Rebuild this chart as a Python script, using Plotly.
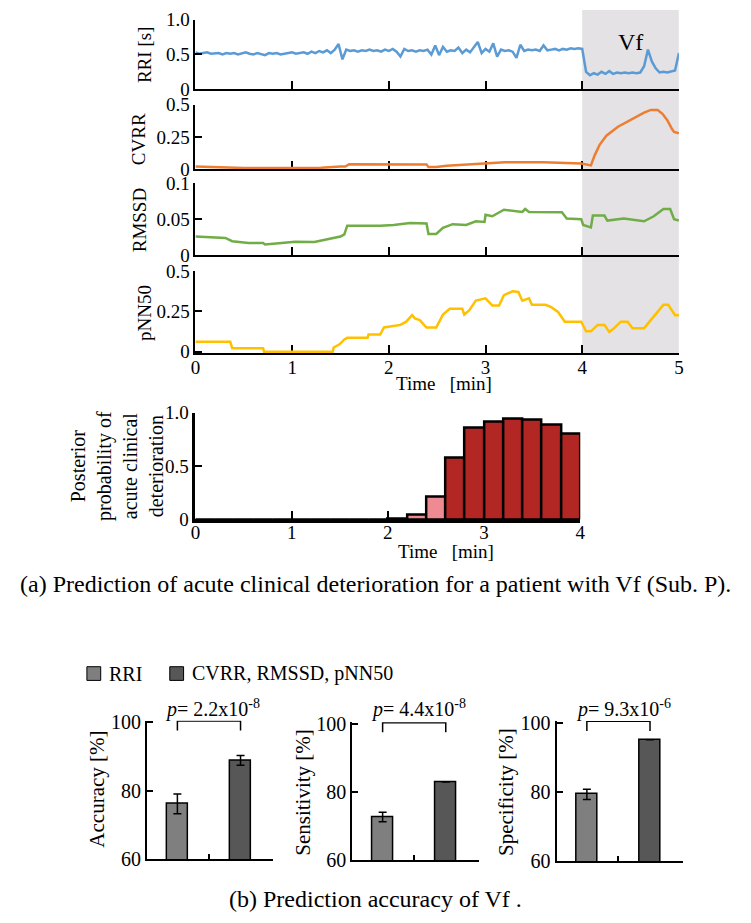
import plotly.graph_objects as go

# ---------------- data ----------------
rri_v = [0.53, 0.51, 0.52, 0.53, 0.51, 0.52, 0.52, 0.50, 0.52, 0.51,
         0.52, 0.50, 0.51, 0.53, 0.51, 0.50, 0.52, 0.51, 0.49, 0.52,
         0.51, 0.52, 0.50, 0.51, 0.52, 0.53, 0.51, 0.52, 0.53, 0.51,
         0.54, 0.52, 0.55, 0.53, 0.56, 0.52, 0.57,
         0.65, 0.43, 0.57,
         0.55, 0.56, 0.54, 0.56, 0.55, 0.57, 0.55, 0.56, 0.54, 0.57,
         0.55, 0.58, 0.54, 0.47, 0.58, 0.55, 0.56, 0.54, 0.56, 0.55,
         0.57, 0.50, 0.63, 0.49, 0.61, 0.54, 0.56, 0.55, 0.60, 0.52,
         0.57, 0.53, 0.60, 0.68, 0.52, 0.58, 0.54, 0.66, 0.47, 0.57,
         0.55, 0.56, 0.54, 0.45, 0.64, 0.55, 0.57, 0.56, 0.57, 0.55,
         0.63, 0.56, 0.57, 0.58, 0.56, 0.58, 0.57, 0.59, 0.58, 0.59,
         0.58, 0.25, 0.20, 0.23, 0.21, 0.25, 0.22, 0.26, 0.22, 0.24,
         0.23, 0.24, 0.23, 0.24, 0.23, 0.24, 0.33, 0.57, 0.40, 0.30,
         0.24, 0.25, 0.24, 0.25, 0.27, 0.52]
rri_step = 0.04  # sampling interval [min]
rri_t = [round(i * rri_step, 2) for i in range(len(rri_v))]

cvrr_t = [0, 0.5, 1.0, 1.3, 1.5, 1.55, 1.59, 2.0, 2.39, 2.41, 2.49, 2.6, 3.0, 3.2,
          3.6, 3.99, 4.09, 4.13, 4.18, 4.25, 4.37, 4.5, 4.64, 4.71, 4.78, 4.83,
          4.88, 4.93, 4.95, 5.0]
cvrr_v = [0.021, 0.010, 0.010, 0.012, 0.021, 0.022, 0.040, 0.038, 0.038, 0.017,
          0.017, 0.028, 0.045, 0.054, 0.054, 0.045, 0.030, 0.110, 0.190, 0.260,
          0.330, 0.380, 0.440, 0.460, 0.460, 0.430, 0.380, 0.310, 0.290, 0.280]

rmssd_t = [0, 0.31, 0.38, 0.55, 0.70, 0.72, 0.89, 1.03, 1.23, 1.37, 1.50, 1.54,
           1.57, 1.91, 2.05, 2.22, 2.39, 2.41, 2.49, 2.56, 2.66, 2.80, 2.90, 2.99,
           3.00, 3.07, 3.19, 3.38, 3.41, 3.45, 3.79, 3.84, 3.99, 4.01, 4.09, 4.11,
           4.23, 4.26, 4.43, 4.64, 4.74, 4.84, 4.91, 4.95, 5.0]
rmssd_v = [0.026, 0.024, 0.0195, 0.017, 0.017, 0.015, 0.017, 0.0186, 0.0185, 0.022,
           0.026, 0.029, 0.041, 0.041, 0.042, 0.0445, 0.044, 0.0295, 0.0295, 0.038,
           0.043, 0.042, 0.047, 0.046, 0.056, 0.054, 0.063, 0.060, 0.064, 0.060,
           0.0595, 0.051, 0.050, 0.042, 0.0386, 0.055, 0.055, 0.048, 0.051, 0.047,
           0.054, 0.064, 0.064, 0.050, 0.048]

pnn_t = [0, 0.36, 0.38, 0.70, 0.71, 1.42, 1.43, 1.49, 1.54, 1.57, 1.78, 1.79, 1.91,
         1.95, 2.12, 2.18, 2.24, 2.27, 2.32, 2.39, 2.49, 2.56, 2.63, 2.76, 2.78, 2.83,
         2.90, 3.00, 3.07, 3.14, 3.19, 3.28, 3.34, 3.38, 3.45, 3.48, 3.62, 3.68, 3.75,
         3.82, 3.99, 4.04, 4.09, 4.16, 4.23, 4.28, 4.33, 4.40, 4.47, 4.52, 4.64, 4.78,
         4.84, 4.89, 4.96, 5.0]
pnn_v = [0.062, 0.062, 0.022, 0.022, 0.0, 0.0, 0.026, 0.046, 0.076, 0.086, 0.086,
         0.106, 0.106, 0.150, 0.166, 0.186, 0.226, 0.206, 0.196, 0.150, 0.150, 0.230,
         0.266, 0.266, 0.230, 0.256, 0.316, 0.330, 0.286, 0.286, 0.350, 0.374, 0.370,
         0.316, 0.330, 0.290, 0.290, 0.276, 0.246, 0.186, 0.186, 0.126, 0.126, 0.166,
         0.166, 0.122, 0.146, 0.186, 0.186, 0.146, 0.146, 0.246, 0.290, 0.290, 0.226,
         0.226]

post_t = [0.1, 0.3, 0.5, 0.7, 0.9, 1.1, 1.3, 1.5, 1.7, 1.9,
          2.1, 2.3, 2.5, 2.7, 2.9, 3.1, 3.3, 3.5, 3.7, 3.9]
post_p = [0, 0, 0, 0, 0, 0, 0, 0, 0, 0,
          0.005, 0.04, 0.21, 0.58, 0.86, 0.92, 0.94, 0.93, 0.89, 0.80]
post_threshold = 0.5

groups = ["RRI", "CVRR, RMSSD, pNN50"]
acc = [76.2, 88.9]
acc_err = [2.9, 1.4]
sens = [72.7, 83.0]
sens_err = [1.4, None]
spec = [79.3, 95.1]
spec_err = [1.45, None]
p_labels = ["2.2x10<sup>-8</sup>", "4.4x10<sup>-8</sup>", "9.3x10<sup>-6</sup>"]

# ---------------- geometry / styling ----------------
W, H = 751, 923
SERIF = "Liberation Serif, Times New Roman, serif"
C_RRI, C_CVRR, C_RMSSD, C_PNN = "#5B9BD5", "#ED7D31", "#70AD47", "#FFC000"
C_DARKRED, C_PINK = "#B22623", "#EE8A92"
C_G1, C_G2 = "#7F7F7F", "#575757"


def px(x):
    return x / W


def py(y):
    return 1 - y / H


fig = go.Figure()

# ---- time series ----
series = [(rri_t, rri_v, C_RRI, "x", "y"),
          (cvrr_t, cvrr_v, C_CVRR, "x2", "y2"),
          (rmssd_t, rmssd_v, C_RMSSD, "x3", "y3"),
          (pnn_t, pnn_v, C_PNN, "x4", "y4")]
for t, v, c, xa, ya in series:
    fig.add_trace(go.Scatter(x=t, y=v, mode="lines", line=dict(color=c, width=2.5),
                             xaxis=xa, yaxis=ya, showlegend=False, hoverinfo="skip"))

# ---- posterior bars ----
post_colors = [C_DARKRED if p >= post_threshold else C_PINK for p in post_p]
fig.add_trace(go.Bar(x=post_t, y=post_p, width=0.2, xaxis="x5", yaxis="y5",
                     marker=dict(color=post_colors, line=dict(color="black", width=2.5)),
                     showlegend=False))

# ---- accuracy bars ----
BR_TOP, BR_LEG = 100.4, 97.6
for vals, errs, xa, ya in [(acc, acc_err, "x6", "y6"),
                           (sens, sens_err, "x7", "y7"),
                           (spec, spec_err, "x8", "y8")]:
    fig.add_trace(go.Bar(x=[0, 1], y=vals, width=0.33, xaxis=xa, yaxis=ya,
                         marker=dict(color=[C_G1, C_G2], line=dict(color="black", width=1.5)),
                         error_y=dict(type="data", array=errs, visible=True, color="black",
                                      thickness=1.5, width=4),
                         showlegend=False))
    fig.add_trace(go.Scatter(x=[0, 0, 1, 1], y=[BR_LEG, BR_TOP, BR_TOP, BR_LEG],
                             mode="lines", line=dict(color="black", width=1.5),
                             xaxis=xa, yaxis=ya, showlegend=False, hoverinfo="skip"))

tickfont = dict(family=SERIF, size=19, color="black")
common = dict(showline=True, linecolor="black", linewidth=2, ticks="inside",
              tickcolor="black", tickwidth=1.5, showgrid=False, zeroline=False,
              tickfont=tickfont)

top_dom_x = [px(193), px(683)]
panels = [  # (y-domain px bottom, top, range, tickvals, ticktext)
    (81, 10, [0, 1], [0, 0.5, 1.0], ["0", "0.5", "1.0"]),
    (163, 97, [0, 0.5], [0, 0.25, 0.5], ["0", "0.25", "0.5"]),
    (251, 177, [0, 0.1], [0, 0.05, 0.1], ["0", "0.05", "0.1"]),
    (351, 267, [-0.008, 0.5], [0, 0.25, 0.5], ["0", "0.25", "0.5"]),
]
layout = {}
for i, (yb, yt, rng, tv, tt) in enumerate(panels):
    n = "" if i == 0 else str(i + 1)
    layout["xaxis" + n] = dict(common, domain=top_dom_x, range=[0, 5], anchor="y" + n,
                               tickvals=[0, 1, 2, 3, 4, 5], ticklen=8,
                               showticklabels=(i == 3), layer="below traces",
                               ticklabelstandoff=-4)
    layout["yaxis" + n] = dict(common, domain=[py(yb), py(yt)], range=rng, anchor="x" + n,
                               tickvals=tv, ticktext=tt, ticklen=7)

layout["xaxis5"] = dict(common, domain=[px(193), px(583)], range=[0, 4], anchor="y5",
                        tickvals=[0, 1, 2, 3, 4], ticklen=8, linewidth=3.5,
                        ticklabelstandoff=-7)
layout["yaxis5"] = dict(common, domain=[py(521), py(412)], range=[0, 1], anchor="x5",
                        tickvals=[0, 0.5, 1.0], ticktext=["0", "0.5", "1.0"], ticklen=7,
                        linewidth=3)

bottom = [(144, 869, 729.0), (352, 870, 730.7), (559, 871, 729.3)]
for j, (x0, y60, y100) in enumerate(bottom):
    k = str(6 + j)
    per = (y60 - y100) / 40.0
    layout["xaxis" + k] = dict(common, domain=[px(x0), px(x0 + 128)], range=[-0.48, 1.52],
                               anchor="y" + k, tickvals=[0.5, 1.519], ticklen=5,
                               showticklabels=False)
    layout["yaxis" + k] = dict(common, domain=[py(y60), py(y100 - 0.5 * per)],
                               range=[60, 100.5], anchor="x" + k, tickvals=[60, 80, 100],
                               ticklen=6, tickfont=dict(family=SERIF, size=20, color="black"))

fig.update_layout(**layout)

# ---- shading (Vf) ----
shapes = [dict(type="rect", xref="x", yref="paper", x0=4, x1=5, y0=py(351), y1=1,
               fillcolor="#E4E2E4", line=dict(width=0), layer="below")]
# legend squares
for xs, c in [(83, C_G1), (167, C_G2)]:
    shapes.append(dict(type="rect", xref="paper", yref="paper", x0=px(xs), x1=px(xs + 14),
                       y0=py(686), y1=py(672), fillcolor=c, line=dict(color="black", width=1)))
fig.update_layout(shapes=shapes)


def ann(text, x, y, size, angle=0, xanchor="center"):
    return dict(text=text, x=px(x), y=py(y), xref="paper", yref="paper", showarrow=False,
                textangle=angle, xanchor=xanchor, yanchor="middle",
                font=dict(family=SERIF, size=size, color="black"))


anns = [
    dict(text="Vf", x=4.5, xref="x", y=py(17), yref="paper", showarrow=False,
         font=dict(family=SERIF, size=24, color="black")),
    ann("RRI [s]", 142, 46, 19, -90),
    ann("CVRR", 136, 132, 19, -90),
    ann("RMSSD", 136, 215, 19, -90),
    ann("pNN50", 142, 310, 19, -90),
    ann("Time   [min]", 445, 382, 19),
    ann("Posterior<br>probability of<br>acute clinical<br>deterioration", 114, 466, 20, -90),
    ann("Time   [min]", 447, 554, 19),
    ann("(a) Prediction of acute clinical deterioration for a patient with Vf (Sub. P).",
        375, 587, 24),
    ann(groups[0], 103, 679, 20, 0, "left"),
    ann(groups[1], 188, 679, 20, 0, "left"),
    ann("Accuracy [%]", 93, 797, 21, -90),
    ann("Sensitivity [%]", 302, 800, 21, -90),
    ann("Specificity [%]", 508, 800, 21, -90),
    ann("(b) Prediction accuracy of Vf .", 375, 910, 24),
]
for cx, lab in zip([210, 419, 627], p_labels):
    anns.append(ann("<i>p</i>= " + lab, cx, 715, 20))
fig.update_layout(annotations=anns)

fig.update_layout(width=W, height=H, margin=dict(l=0, r=0, t=0, b=0),
                  paper_bgcolor="white", plot_bgcolor="rgba(0,0,0,0)",
                  bargap=0, font=dict(family=SERIF, color="black"))

fig.write_html("out.html", config={"displayModeBar": False},
               post_script="document.body.style.margin='0px';")
